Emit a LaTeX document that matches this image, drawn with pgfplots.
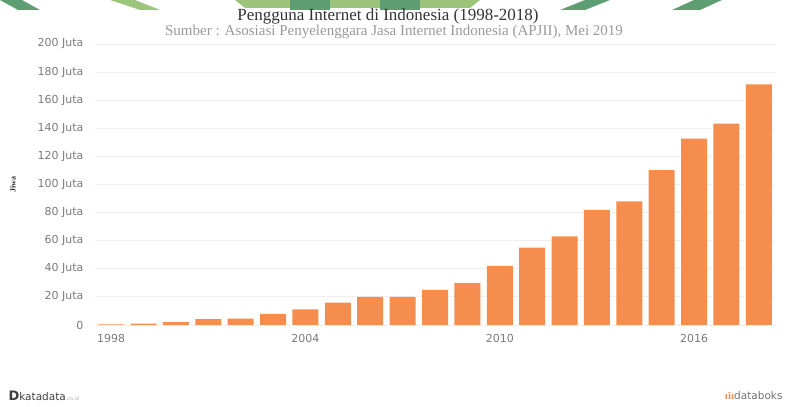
\documentclass[border=0pt]{standalone}
\usepackage{pgfplots}
\pgfplotsset{compat=1.18}
\usepackage{fontspec}
\setmainfont{DejaVu Sans}
\newfontfamily\serifttl{Liberation Serif}

\definecolor{barc}{HTML}{F58D4E}
\definecolor{gridc}{HTML}{EFEFEF}
\definecolor{tickc}{HTML}{7A7A7A}
\definecolor{greenA}{HTML}{5E9E72}
\definecolor{greenB}{HTML}{9CC47A}

\begin{document}
\begin{tikzpicture}
\path[use as bounding box] (0pt,0pt) rectangle (790pt,407pt);

% decorative header shapes
\fill[greenA] (0pt,407pt) -- (22pt,407pt) -- (40pt,397pt) -- (18pt,397pt) -- cycle;
\fill[greenB] (110pt,407pt) -- (135pt,407pt) -- (160pt,397pt) -- (140pt,397pt) -- cycle;
\fill[greenB] (235pt,407pt) -- (480pt,407pt) -- (470pt,399pt) -- (245pt,399pt) -- cycle;
\fill[greenA] (290pt,407pt) -- (330pt,407pt) -- (330pt,397pt) -- (290pt,397pt) -- cycle;
\fill[greenA] (380pt,407pt) -- (420pt,407pt) -- (420pt,397pt) -- (380pt,397pt) -- cycle;
\fill[greenA] (560pt,397pt) -- (585pt,397pt) -- (610pt,407pt) -- (585pt,407pt) -- cycle;
\fill[greenA] (672pt,397pt) -- (700pt,397pt) -- (722pt,407pt) -- (694pt,407pt) -- cycle;

\node[font={\serifttl\fontsize{17}{19}\selectfont}, text=black!80] at (388pt,391pt) {Pengguna Internet di Indonesia (1998-2018)};
\node[font={\serifttl\fontsize{15}{17}\selectfont}, text=black!40] at (394pt,375pt) {Sumber : Asosiasi Penyelenggara Jasa Internet Indonesia (APJII), Mei 2019};

\node[rotate=90, font={\serifttl\bfseries\fontsize{8}{9}\selectfont}, text=black!80] at (13pt,222pt) {Jiwa};

\begin{axis}[
    at={(95pt,82pt)}, anchor=south west,
    scale only axis,
    width=680pt, height=281pt,
    xmin=1997.5, xmax=2018.5,
    ymin=0, ymax=200,
    ybar, bar width=26pt,
    axis line style={draw=none},
    tick style={draw=none},
    ymajorgrids, major grid style={gridc, line width=0.8pt},
    ytick={0,20,...,200},
    yticklabels={0,20 Juta,40 Juta,60 Juta,80 Juta,100 Juta,120 Juta,140 Juta,160 Juta,180 Juta,200 Juta},
    xtick={1998,2004,2010,2016},
    xticklabels={1998,2004,2010,2016},
    ticklabel style={font=\fontsize{11}{13}\selectfont, text=tickc},
    yticklabel style={xshift=-8pt},
    xticklabel style={yshift=-2pt},
]
\addplot[fill=barc, draw=none] coordinates {
    (1998,0.5) (1999,1) (2000,2) (2001,4.2) (2002,4.5) (2003,8)
    (2004,11.2) (2005,16) (2006,20) (2007,20) (2008,25) (2009,30)
    (2010,42) (2011,55) (2012,63) (2013,82) (2014,88) (2015,110.2)
    (2016,132.7) (2017,143.3) (2018,171.2)
};
\end{axis}

\node[anchor=west, font=\fontsize{10.5}{12}\selectfont, text=black!75] at (5pt,11pt) {\textbf{\fontsize{13}{13}\selectfont D}katadata{\fontsize{5}{6}\selectfont\color{black!30}.co.id}};
\node[anchor=east, font=\fontsize{10.5}{12}\selectfont, text=black!55] at (786pt,11pt) {{\color{barc}\textbf{\fontsize{9}{9}\selectfont ıȋı}}databoks};
\end{tikzpicture}
\end{document}
